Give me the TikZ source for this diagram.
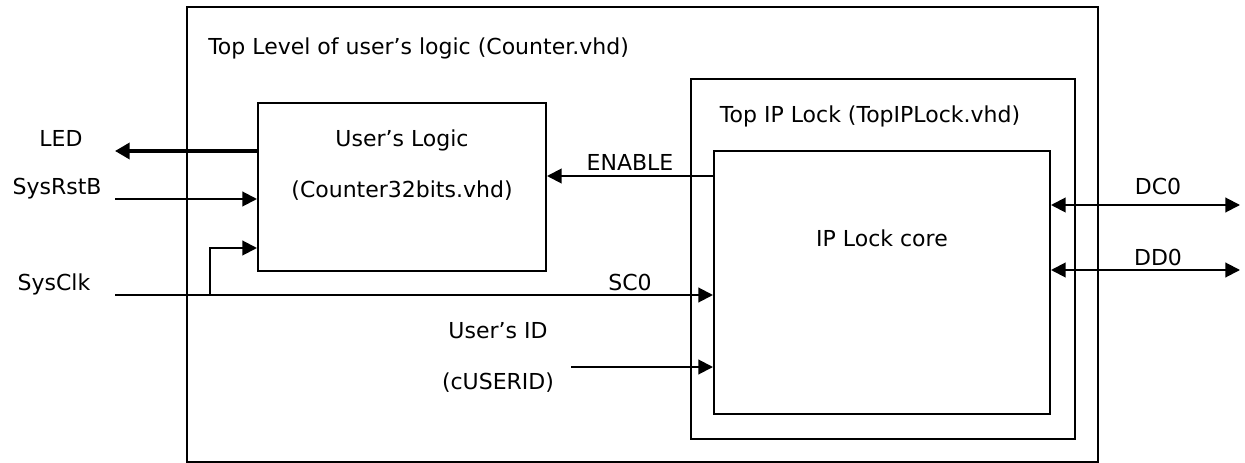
\documentclass[tikz,border=0pt]{standalone}
\usepackage{fontspec}
\setmainfont{DejaVu Sans}
\usetikzlibrary{arrows.meta,fit}

\tikzset{
  box/.style={draw, line width=1.5pt, inner sep=0pt},
  sig/.style={line width=1.5pt, -{Triangle[length=11pt,width=11pt]}},
  bisig/.style={line width=1.5pt, {Triangle[length=11pt,width=11pt]}-{Triangle[length=11pt,width=11pt]}},
  bigsig/.style={line width=2.6pt, -{Triangle[length=11pt,width=12pt]}},
  txt/.style={anchor=base, inner sep=0pt, font=\fontsize{16.5}{20}\selectfont},
}

\begin{document}
\begin{tikzpicture}[x=0.75pt, y=-0.75pt]
    \useasboundingbox (0,0) rectangle (1245,463);

    % Blocks
    \node[box, fit={(187,7) (1098,462)}] (toplevel) {};
    \node[box, fit={(258,103) (546,271)}] (user) {};
    \node[box, fit={(691,79) (1075,439)}] (topip) {};
    \node[box, fit={(714,151) (1050,414)}] (core) {};

    % Block titles
    \node[txt, anchor=base west] (toplbl) at (208,55) {Top Level of user’s logic (Counter.vhd)};
    \node[txt] (userlbl) at (402,147) {User’s Logic};
    \node[txt] (userfile) at (402,198) {(Counter32bits.vhd)};
    \node[txt] (topiplbl) at (870,123) {Top IP Lock (TopIPLock.vhd)};
    \node[txt] (corelbl) at (882,247) {IP Lock core};

    % Signal ends
    \coordinate (led) at (115,151);
    \coordinate (rst) at (115,199);
    \coordinate (clk) at (115,295);
    \coordinate (br) at (210,295);
    \coordinate (en) at (0,176);
    \coordinate (uid) at (571,367);
    \coordinate (dc) at (1240,205);
    \coordinate (dd) at (1240,270);

    % Signals
    \draw[bigsig] (led -| user.west) -- (led);
    \draw[sig] (rst) -- (rst -| user.west);
    \draw[sig] (clk) -- (clk -| core.west);
    \draw[sig] (br) |- ([yshift=18pt]user.south west);
    \draw[sig] (en -| core.west) -- (en -| user.east);
    \draw[sig] (uid) -- (uid -| core.west);
    \draw[bisig] (dc -| core.east) -- (dc);
    \draw[bisig] (dd -| core.east) -- (dd);

    % Signal names
    \node[txt] (ledlbl) at (61,147) {LED};
    \node[txt] (rstlbl) at (57,195) {SysRstB};
    \node[txt] (clklbl) at (54,291) {SysClk};
    \node[txt] (enlbl) at (630,171) {ENABLE};
    \node[txt] (sclbl) at (630,291) {SC0};
    \node[txt] (uidlbl) at (498,338) {User’s ID};
    \node[txt] (uidname) at (498,389) {(cUSERID)};
    \node[txt] (dclbl) at (1158,195) {DC0};
    \node[txt] (ddlbl) at (1158,266) {DD0};
\end{tikzpicture}
\end{document}
